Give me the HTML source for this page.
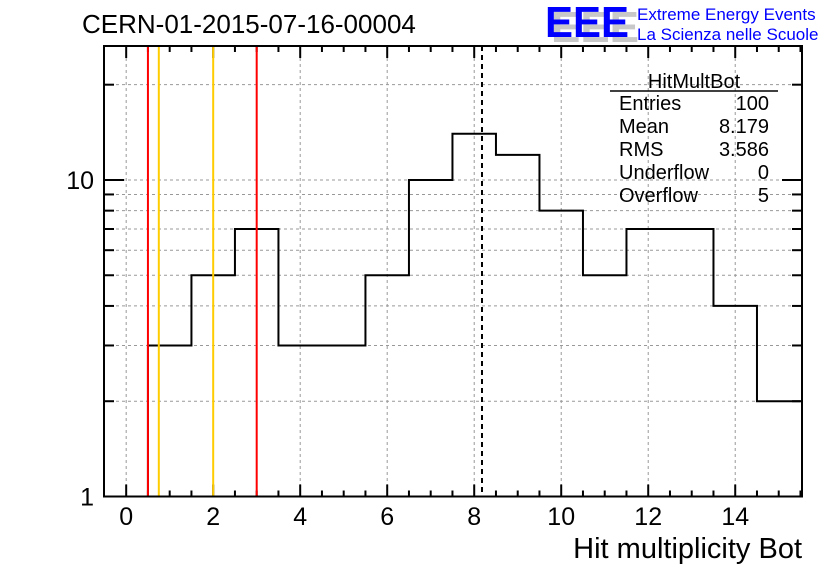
<!DOCTYPE html>
<html><head><meta charset="utf-8"><style>
body{margin:0;background:#fff}
svg{display:block;font-family:"Liberation Sans",sans-serif}
</style></head><body>
<svg id="c" width="836" height="572">
<text x="82" y="33" font-size="26">CERN-01-2015-07-16-00004</text>
<g>
<text x="551" y="42" font-size="44" font-weight="bold" fill="#c8c8c8" textLength="88" lengthAdjust="spacingAndGlyphs">EEE</text>
<text x="545" y="37" font-size="44" font-weight="bold" fill="#0000ff" textLength="84" lengthAdjust="spacingAndGlyphs">EEE</text>
<text x="637" y="20" font-size="17" fill="#0000ff">Extreme Energy Events</text>
<text x="637" y="40" font-size="17" fill="#0000ff">La Scienza nelle Scuole</text>
</g>
<text x="802" y="558" font-size="29" text-anchor="end">Hit multiplicity Bot</text>
<g id="g"></g>
<g font-size="20">
<text x="694" y="88" text-anchor="middle">HitMultBot</text>
<line x1="610" y1="91" x2="778" y2="91" stroke="#000" stroke-width="1.5"/>
<text x="619" y="110">Entries</text><text x="769" y="110" text-anchor="end">100</text>
<text x="619" y="133">Mean</text><text x="769" y="133" text-anchor="end">8.179</text>
<text x="619" y="156">RMS</text><text x="769" y="156" text-anchor="end">3.586</text>
<text x="619" y="179">Underflow</text><text x="769" y="179" text-anchor="end">0</text>
<text x="619" y="202">Overflow</text><text x="769" y="202" text-anchor="end">5</text>
</g>
</svg>
<script>
const binLow=[0.5,1.5,2.5,3.5,4.5,5.5,6.5,7.5,8.5,9.5,10.5,11.5,12.5,13.5,14.5];
const counts=[3,5,7,3,3,5,10,14,12,8,5,7,7,4,2];
const binWidth=1;
const xTicks=[0,2,4,6,8,10,12,14];
const yTicks=[1,10];
const yGrid=[2,3,4,5,6,7,8,9,10,20];
const redLines=[0.5,3];
const orangeLines=[0.75,2];
const meanValue=8.179;
const L=104,R=802,T=46,B=496.5;
const xMin=-0.51,xMax=15.535,yMin=1,yMax=26.5;
const X=v=>L+(v-xMin)/(xMax-xMin)*(R-L);
const Y=v=>B-(Math.log10(v)-Math.log10(yMin))/(Math.log10(yMax)-Math.log10(yMin))*(B-T);
const g=document.getElementById('g');
const NS='http://www.w3.org/2000/svg';
function mk(t,a,name){const e=document.createElementNS(NS,t);for(const k in a)e.setAttribute(k,a[k]);


g.appendChild(e);return e;}
xTicks.forEach(v=>{mk('line',{x1:X(v),x2:X(v),y1:T,y2:B,stroke:'#999','stroke-dasharray':'3,3'},'x-gridline');});
yGrid.forEach(v=>{mk('line',{x1:L,x2:R,y1:Y(v),y2:Y(v),stroke:'#999','stroke-dasharray':'3,3'},'y-gridline');});
for(let v=0;v<=15.5;v+=0.5){const maj=v%2===0;const len=maj?12:6;
mk('line',{x1:X(v),x2:X(v),y1:B,y2:B-len,stroke:'#000','stroke-width':2},'x-tick');
mk('line',{x1:X(v),x2:X(v),y1:T,y2:T+len,stroke:'#000','stroke-width':2},'x-tick-top');}
[1,2,3,4,5,6,7,8,9,10,20].forEach(v=>{const len=(v===1||v===10)?20:10;
mk('line',{x1:L,x2:L+len,y1:Y(v),y2:Y(v),stroke:'#000','stroke-width':2},'y-tick');
mk('line',{x1:R,x2:R-len,y1:Y(v),y2:Y(v),stroke:'#000','stroke-width':2},'y-tick-right');});
let d='M'+X(binLow[0])+','+B;
binLow.forEach((b,i)=>{d+=' L'+X(b)+','+Y(counts[i])+' L'+X(b+binWidth)+','+Y(counts[i]);});
mk('path',{d:d,fill:'none',stroke:'#000','stroke-width':2},'histogram-line');
redLines.forEach(v=>mk('line',{x1:X(v),x2:X(v),y1:T,y2:B,stroke:'#ff0000','stroke-width':2},'red-cut-line'));
orangeLines.forEach(v=>mk('line',{x1:X(v),x2:X(v),y1:T,y2:B,stroke:'#ffcc00','stroke-width':2},'orange-cut-line'));
mk('line',{x1:X(meanValue),x2:X(meanValue),y1:T,y2:B,stroke:'#000','stroke-width':2,'stroke-dasharray':'5,4'},'mean-line');
mk('rect',{x:L,y:T,width:R-L,height:B-T,fill:'none',stroke:'#000','stroke-width':2},'plot-frame');
xTicks.forEach(v=>{const t=mk('text',{x:X(v),y:525,'font-size':25,'text-anchor':'middle'},'x-tick-label');t.textContent=v;});
yTicks.forEach(v=>{const t=mk('text',{x:94,y:Y(v)+9,'font-size':25,'text-anchor':'end'},'y-tick-label');t.textContent=v;});
</script>
</body></html>
